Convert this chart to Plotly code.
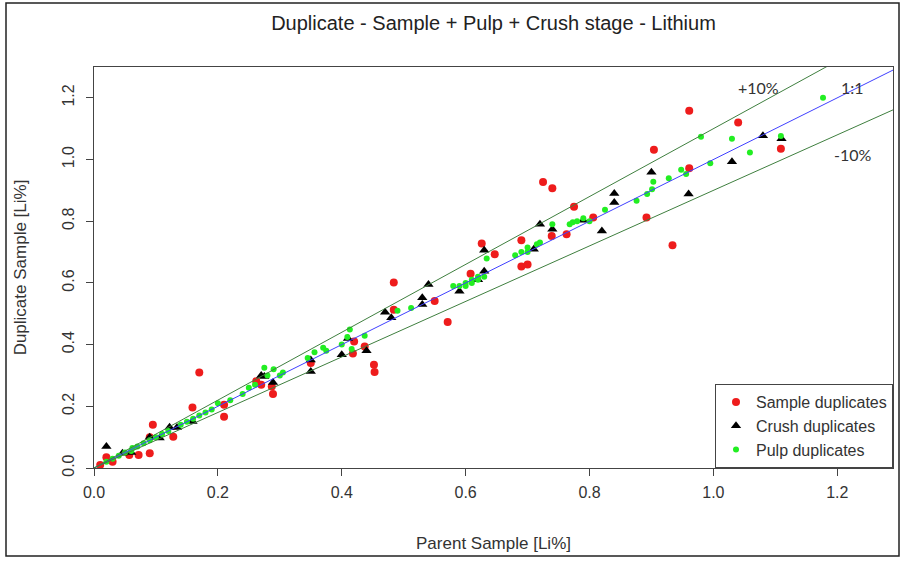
import plotly.graph_objects as go

# ---- data ----
sample_x = [0.01, 0.02, 0.03, 0.057, 0.072, 0.09, 0.095, 0.09, 0.128, 0.159, 0.17, 0.21, 0.21,
            0.262, 0.27, 0.287, 0.289, 0.35, 0.42, 0.437, 0.418, 0.452, 0.453, 0.484, 0.484,
            0.55, 0.571, 0.608, 0.626, 0.647, 0.69, 0.69, 0.70, 0.725, 0.74, 0.739, 0.763,
            0.775, 0.806, 0.892, 0.904, 0.934, 0.961, 0.961, 1.04, 1.109]
sample_y = [0.01, 0.035, 0.02, 0.042, 0.042, 0.048, 0.14, 0.10, 0.101, 0.196, 0.31, 0.205, 0.166,
            0.281, 0.27, 0.264, 0.240, 0.34, 0.41, 0.394, 0.371, 0.335, 0.311, 0.601, 0.513,
            0.541, 0.473, 0.630, 0.728, 0.693, 0.738, 0.653, 0.66, 0.927, 0.907, 0.752, 0.758,
            0.847, 0.812, 0.812, 1.032, 0.722, 1.158, 0.972, 1.12, 1.035]

crush_x = [0.02, 0.046, 0.06, 0.09, 0.106, 0.122, 0.134, 0.159, 0.27, 0.275, 0.289, 0.35, 0.35,
           0.40, 0.41, 0.44, 0.47, 0.48, 0.53, 0.53, 0.54, 0.59, 0.62, 0.63, 0.63, 0.71, 0.72,
           0.74, 0.79, 0.82, 0.84, 0.84, 0.90, 0.96, 1.03, 1.08, 1.11]
crush_y = [0.07, 0.048, 0.05, 0.10, 0.097, 0.132, 0.131, 0.151, 0.30, 0.297, 0.277, 0.35, 0.313,
           0.367, 0.42, 0.38, 0.505, 0.487, 0.552, 0.53, 0.595, 0.573, 0.61, 0.638, 0.706, 0.709, 0.79,
           0.774, 0.803, 0.768, 0.89, 0.861, 0.959, 0.888, 0.993, 1.077, 1.067]

pulp_x = [0.02, 0.03, 0.04, 0.05, 0.06, 0.062, 0.07, 0.08, 0.09, 0.10, 0.11, 0.12, 0.14, 0.15,
          0.16, 0.17, 0.18, 0.19, 0.20, 0.22, 0.24, 0.25, 0.26, 0.275, 0.29, 0.28, 0.30, 0.305,
          0.345, 0.356, 0.37, 0.375, 0.40, 0.409, 0.413, 0.416, 0.437, 0.49, 0.512, 0.58, 0.59,
          0.60, 0.60, 0.61, 0.61, 0.62, 0.62, 0.63, 0.634, 0.68, 0.69, 0.70, 0.70, 0.715, 0.72,
          0.74, 0.768, 0.773, 0.78, 0.79, 0.80, 0.825, 0.876, 0.893, 0.901, 0.903, 0.928, 0.948,
          0.956, 0.98, 0.995, 1.03, 1.059, 1.109, 1.177]
pulp_y = [0.02, 0.03, 0.04, 0.05, 0.055, 0.065, 0.07, 0.08, 0.09, 0.10, 0.11, 0.12, 0.14, 0.15,
          0.16, 0.17, 0.18, 0.19, 0.21, 0.22, 0.24, 0.26, 0.27, 0.325, 0.32, 0.30, 0.30, 0.31,
          0.357, 0.375, 0.39, 0.38, 0.40, 0.425, 0.449, 0.386, 0.429, 0.51, 0.519, 0.59, 0.59,
          0.60, 0.59, 0.61, 0.60, 0.61, 0.62, 0.62, 0.679, 0.69, 0.70, 0.70, 0.715, 0.725, 0.731,
          0.79, 0.79, 0.797, 0.80, 0.81, 0.80, 0.837, 0.866, 0.888, 0.904, 0.928, 0.939, 0.967,
          0.953, 1.074, 0.988, 1.067, 1.023, 1.076, 1.20]

ref_slopes = [1.0, 1.1, 0.9]
ref_colors = ["#4040ff", "#3f7f3f", "#3f7f3f"]
ref_labels = ["1:1", "+10%", "-10%"]
ref_label_pos = [(1.225, 1.235), (1.073, 1.235), (1.226, 1.015)]

x_ticks = [0.0, 0.2, 0.4, 0.6, 0.8, 1.0, 1.2]
y_ticks = [0.0, 0.2, 0.4, 0.6, 0.8, 1.0, 1.2]

XMAX, YMAX = 1.29, 1.30

fig = go.Figure()
fig.add_trace(go.Scatter(x=sample_x, y=sample_y, mode="markers", name="Sample duplicates",
                         marker=dict(symbol="circle", size=8, color="#ee1c1c")))
fig.add_trace(go.Scatter(x=crush_x, y=crush_y, mode="markers", name="Crush duplicates",
                         marker=dict(symbol="triangle-up", size=9, color="black")))
fig.add_trace(go.Scatter(x=pulp_x, y=pulp_y, mode="markers", name="Pulp duplicates",
                         marker=dict(symbol="circle", size=6, color="#22ee22")))
for s, c in zip(ref_slopes, ref_colors):
    fig.add_trace(go.Scatter(x=[0, 1.5], y=[0, 1.5 * s], mode="lines", showlegend=False,
                             line=dict(color=c, width=1), hoverinfo="skip"))

for lab, (lx, ly) in zip(ref_labels, ref_label_pos):
    fig.add_annotation(x=lx, y=ly, text=lab, showarrow=False,
                       font=dict(family="Lato", size=16, color="#333"))

# outer frame of the picture
L, R, T, B = 94, 893, 67, 468
W, H = R - L, B - T
def px(xp): return (xp - L) / W
def py(yp): return (B - yp) / H
fig.add_shape(type="rect", xref="paper", yref="paper", x0=px(6), x1=px(899), y0=py(556), y1=py(3),
              line=dict(color="#222", width=1.5), fillcolor="rgba(0,0,0,0)", layer="below")

fig.update_layout(
    width=902, height=561,
    margin=dict(l=L, r=902 - R, t=T, b=561 - B, autoexpand=False),
    paper_bgcolor="white", plot_bgcolor="white",
    font=dict(family="Liberation Sans", size=16, color="#333"),
    title=dict(text="Duplicate - Sample + Pulp + Crush stage - Lithium", x=(L + R) / 2 / 902,
               xanchor="center", y=1 - 23 / 561, yanchor="middle",
               font=dict(size=20, color="#222")),
    showlegend=True,
    legend=dict(x=1, y=0, xanchor="right", yanchor="bottom", bgcolor="white",
                bordercolor="#444", borderwidth=1, font=dict(size=16, color="#333"),
                itemwidth=30, tracegroupgap=0),
    xaxis=dict(range=[0, XMAX], tickvals=x_ticks, ticktext=[f"{v:.1f}" for v in x_ticks],
               ticks="outside", ticklen=7, tickcolor="#444", showgrid=False, zeroline=False,
               showline=True, linecolor="#444", mirror=True, automargin=False,
               ticklabelstandoff=3,
               title=dict(text="Parent Sample [Li%]", standoff=36, font=dict(size=17))),
    yaxis=dict(range=[0, YMAX], tickvals=y_ticks, ticktext=[f"{v:.1f}" for v in y_ticks],
               ticks="outside", ticklen=7, tickcolor="#444", showgrid=False, zeroline=False,
               showline=True, linecolor="#444", mirror=True, tickangle=-90, automargin=False,
               ticklabelstandoff=6,
               title=dict(text="Duplicate Sample [Li%]", standoff=28, font=dict(size=17))),
)

fig.write_html("out.html", config={"displayModeBar": False},
               post_script="document.body.style.margin='0';document.body.style.overflow='hidden';")
